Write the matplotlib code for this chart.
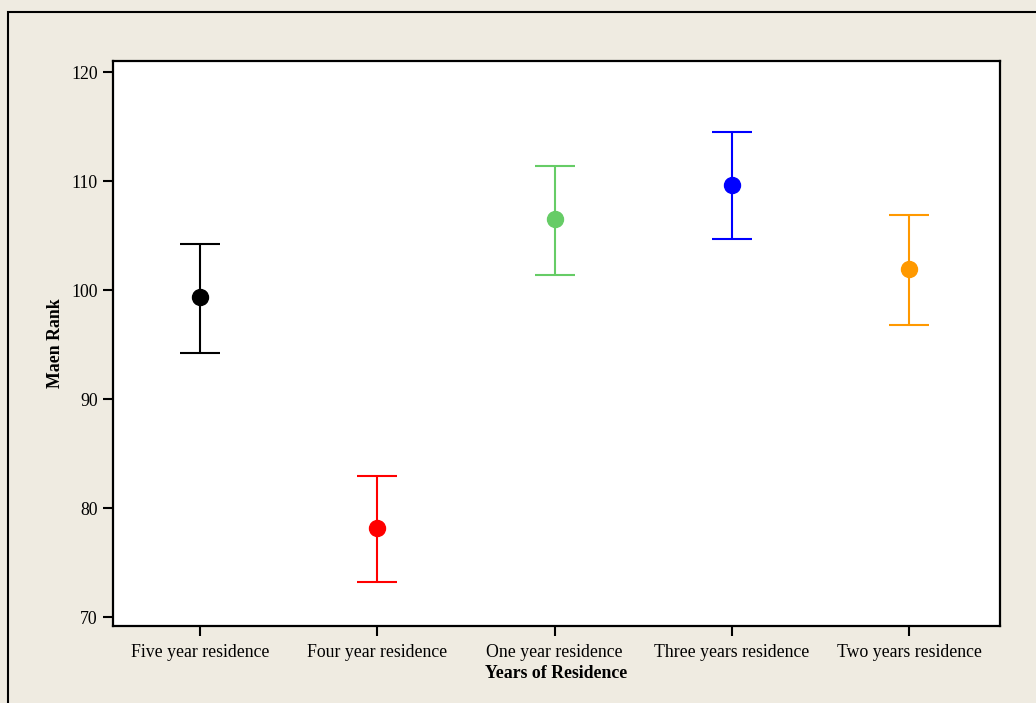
import numpy as np
import matplotlib.pyplot as plt
from matplotlib.patches import Rectangle

plt.rcParams['font.family'] = ['Liberation Serif', 'DejaVu Serif']

groups = ["Five year residence", "Four year residence", "One year residence",
          "Three years residence", "Two years residence"]
mean_rank = [99.33, 78.15, 106.5, 109.65, 101.96]
upper = [104.22, 83.0, 111.39, 114.53, 106.88]
lower = [94.2, 73.2, 101.38, 104.73, 96.85]
colors = ["#000000", "#FF0000", "#66CC66", "#0000FF", "#FF9900"]

fig = plt.figure(figsize=(10.36, 7.03), dpi=100)
fig.patch.set_facecolor("#EFEBE1")
ax = fig.add_axes([0.109, 0.1095, 0.856, 0.8035])

# outer frame, runs off the right and bottom edges
fig.patches.append(Rectangle((0.0077, -0.2), 1.2, 1.183, transform=fig.transFigure,
                             fill=False, edgecolor="black", linewidth=1.5))

x = np.arange(len(groups))
for i in range(len(groups)):
    err = [[mean_rank[i] - lower[i]], [upper[i] - mean_rank[i]]]
    ax.errorbar(x[i], mean_rank[i], yerr=err, fmt='o', color=colors[i],
                markersize=11.5, elinewidth=1.5, capsize=14.5, capthick=1.5)

ax.set_xlim(-0.49, 4.51)
ax.set_ylim(69.2, 121.0)
ax.set_yticks([70, 80, 90, 100, 110, 120])
ax.set_xticks(x)
ax.set_xticklabels(groups)
ax.tick_params(axis='both', direction='out', length=7, width=1.5, labelsize=12.8,
               colors='black', pad=6)
ax.tick_params(axis='y', pad=4)
for s in ax.spines.values():
    s.set_linewidth(1.6)

ax.set_xlabel("Years of Residence", fontsize=12.8, fontweight='bold', labelpad=3)
ax.set_ylabel("Maen Rank", fontsize=12.8, fontweight='bold', labelpad=5)

fig.savefig("out.png", dpi=100, facecolor=fig.get_facecolor())
